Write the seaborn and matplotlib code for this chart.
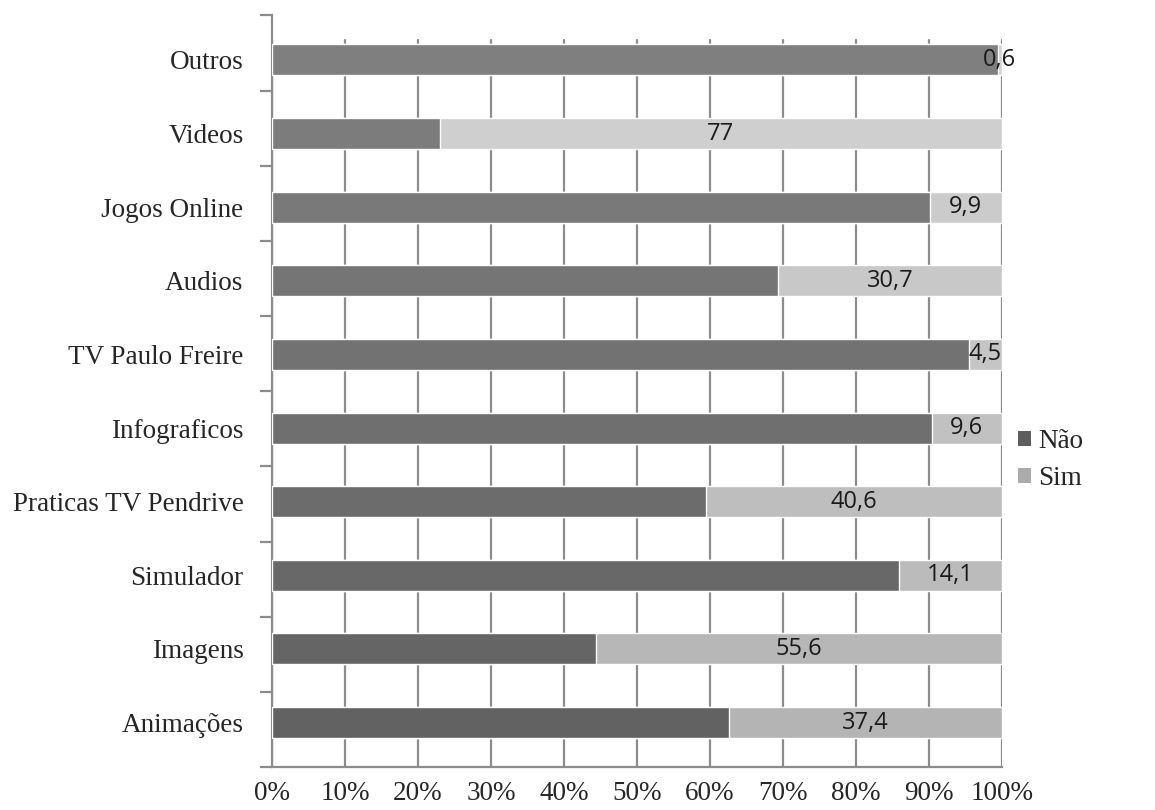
import numpy as np
import pandas as pd
import matplotlib
matplotlib.use('Agg')
import matplotlib.pyplot as plt
import seaborn as sns
from matplotlib.patches import Patch
from matplotlib.ticker import FixedLocator, PercentFormatter

# categories top to bottom, with the "Sim" share in percent
categories = ["Outros", "Videos", "Jogos Online", "Audios", "TV Paulo Freire",
              "Infograficos", "Praticas TV Pendrive", "Simulador", "Imagens", "Animações"]
sim_values = [0.6, 77, 9.9, 30.7, 4.5, 9.6, 40.6, 14.1, 55.6, 37.4]
sim_labels = ["0,6", "77", "9,9", "30,7", "4,5", "9,6", "40,6", "14,1", "55,6", "37,4"]
nao_values = [100 - v for v in sim_values]
series_names = ["Não", "Sim"]

df = pd.DataFrame({"categoria": categories, "Não": nao_values, "Sim": sim_values})
df["total"] = df["Não"] + df["Sim"]

sns.set_style("white")
plt.rcParams["font.family"] = ["Liberation Serif", "DejaVu Serif"]

# the excel 3D look gets lighter towards the top rows
n = len(categories)
pal_nao = sns.blend_palette(["#7f7f7f", "#626262"], n)
pal_sim = sns.blend_palette(["#d2d2d2", "#b4b4b4"], n)
grid_col = "#8c8c8c"

fig = plt.figure(figsize=(11.55, 8.1), dpi=100)
ax = fig.add_axes([0.2355, 0.053, 0.632, 0.928])

# vertical gridlines (back wall stops a bit under the top of the y axis)
for xv in range(0, 101, 10):
    ax.axvline(xv, ymin=0, ymax=0.967, color=grid_col, linewidth=1.6, zorder=0)

# stacked: full bar as "Sim", "Não" drawn on top
sns.barplot(data=df, x="total", y="categoria", hue="categoria", order=categories,
            hue_order=categories, palette=pal_sim, orient="h", width=0.42,
            saturation=1, legend=False, ax=ax, zorder=2)
sns.barplot(data=df, x="Não", y="categoria", hue="categoria", order=categories,
            hue_order=categories, palette=pal_nao, orient="h", width=0.42,
            saturation=1, legend=False, ax=ax, zorder=3)

# value labels centered on the "Sim" segment
for i, (nv, sv, lab) in enumerate(zip(nao_values, sim_values, sim_labels)):
    ax.text(nv + sv / 2, i, lab, ha="center", va="center", fontsize=17,
            family=["Open Sans", "DejaVu Sans"], color="#1a1a1a", zorder=4)

ax.set_xlim(0, 100)
ax.set_ylim(9.604, -0.604)
ax.set_xticks(np.arange(0, 101, 10))
ax.xaxis.set_major_formatter(PercentFormatter(decimals=0))
ax.tick_params(axis="x", length=0, pad=10, labelsize=19.5)
ax.tick_params(axis="y", which="major", length=0, pad=20.5, labelsize=19.5)
ax.yaxis.set_minor_locator(FixedLocator(np.linspace(-0.604, 9.604, n + 1)))
ax.tick_params(axis="y", which="minor", left=True, length=9, width=1.6, color=grid_col)
ax.set_xlabel("")
ax.set_ylabel("")

for side in ["top", "right"]:
    ax.spines[side].set_visible(False)
for side in ["left", "bottom"]:
    ax.spines[side].set_color(grid_col)
    ax.spines[side].set_linewidth(1.6)

handles = [Patch(facecolor="#5e5e5e", edgecolor="none"),
           Patch(facecolor="#ababab", edgecolor="none")]
fig.legend(handles, series_names, loc="center left", bbox_to_anchor=(0.881, 0.432),
           frameon=False, fontsize=19.5, handlelength=0.5, handleheight=0.5,
           handletextpad=0.25, labelspacing=0.45, borderpad=0, borderaxespad=0)

fig.savefig("out.png", dpi=100)
